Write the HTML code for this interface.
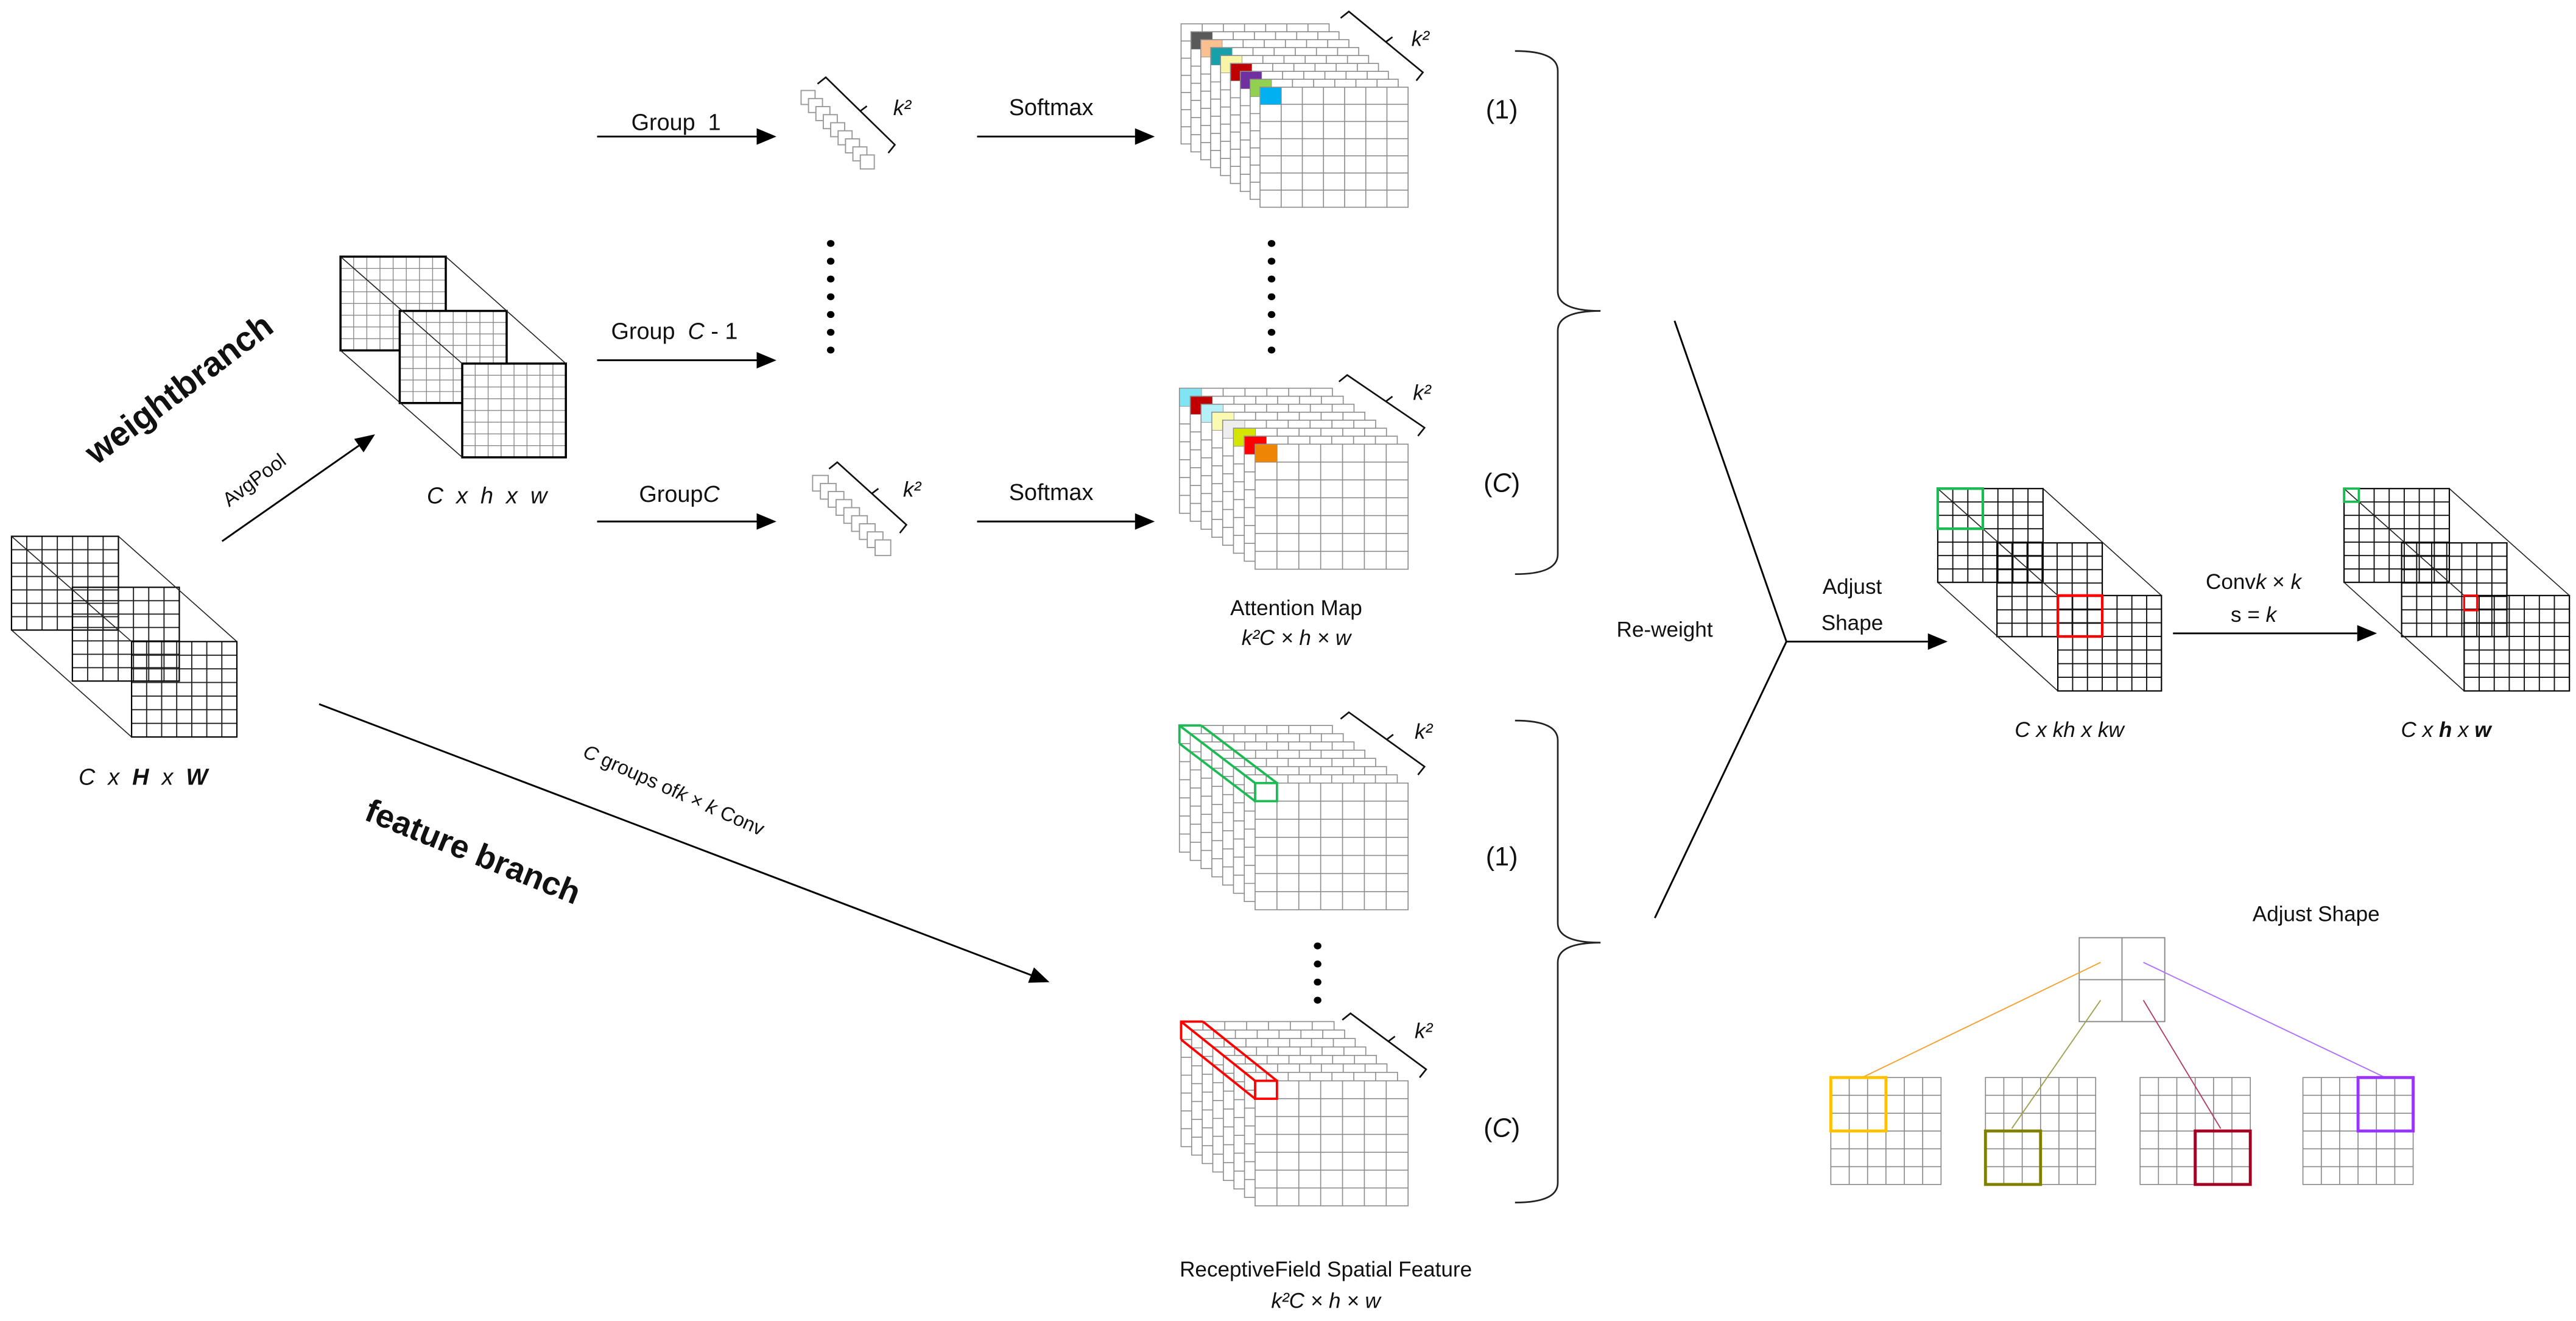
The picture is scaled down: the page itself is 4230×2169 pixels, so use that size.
<!DOCTYPE html>
<html><head><meta charset="utf-8">
<style>
html,body{margin:0;padding:0;background:#fff;}
svg{display:block;}
text{font-family:"Liberation Sans",sans-serif;fill:#111;}
.it{font-style:italic;}
</style></head>
<body>
<svg id="s" xmlns="http://www.w3.org/2000/svg" width="4230" height="2169" viewBox="0 0 1566 803" preserveAspectRatio="none">
<rect width="1566" height="803" fill="#fff"/>
<g id="g"></g>
<g id="t">
<text transform="translate(113,242) rotate(-37)" text-anchor="middle" font-size="21" font-weight="bold">weightbranch</text>
<text transform="translate(157,295) rotate(-37)" text-anchor="middle" font-size="12">AvgPool</text>
<text x="87" y="477" text-anchor="middle" font-size="14" class="it" xml:space="preserve">C  x  <tspan font-weight="bold">H</tspan>  x  <tspan font-weight="bold">W</tspan></text>
<text x="296" y="306" text-anchor="middle" font-size="14" class="it" xml:space="preserve">C  x  h  x  w</text>
<text x="411" y="79" text-anchor="middle" font-size="14" xml:space="preserve">Group  1</text>
<text x="410" y="206" text-anchor="middle" font-size="14" xml:space="preserve">Group  <tspan class="it">C</tspan> - 1</text>
<text x="413" y="305" text-anchor="middle" font-size="14">Group<tspan class="it">C</tspan></text>
<text x="639" y="70" text-anchor="middle" font-size="14">Softmax</text>
<text x="639" y="304" text-anchor="middle" font-size="14">Softmax</text>
<text x="913" y="72" text-anchor="middle" font-size="16">(1)</text>
<text x="913" y="299" text-anchor="middle" font-size="16">(<tspan class="it">C</tspan>)</text>
<text x="913" y="526" text-anchor="middle" font-size="16">(1)</text>
<text x="913" y="691" text-anchor="middle" font-size="16">(<tspan class="it">C</tspan>)</text>
<text x="788" y="374" text-anchor="middle" font-size="13">Attention Map</text>
<text x="788" y="392" text-anchor="middle" font-size="13" class="it">k²C × h × w</text>
<text x="1012" y="387" text-anchor="middle" font-size="13">Re-weight</text>
<text x="1126" y="361" text-anchor="middle" font-size="13">Adjust</text>
<text x="1126" y="383" text-anchor="middle" font-size="13">Shape</text>
<text x="1370" y="358" text-anchor="middle" font-size="13">Conv<tspan class="it">k</tspan> × <tspan class="it">k</tspan></text>
<text x="1370" y="378" text-anchor="middle" font-size="13">s = <tspan class="it">k</tspan></text>
<text x="1258" y="448" text-anchor="middle" font-size="13" class="it">C x kh x kw</text>
<text x="1487" y="448" text-anchor="middle" font-size="13" class="it">C x <tspan font-weight="bold">h</tspan> x <tspan font-weight="bold">w</tspan></text>
<text x="1408" y="560" text-anchor="middle" font-size="13">Adjust Shape</text>
<text transform="translate(408,484) rotate(24)" text-anchor="middle" font-size="12"><tspan class="it">C</tspan> groups of<tspan class="it">k</tspan> × <tspan class="it">k</tspan> Conv</text>
<text transform="translate(285,524) rotate(22)" text-anchor="middle" font-size="20" font-weight="bold">feature branch</text>
<text x="806" y="776" text-anchor="middle" font-size="13">ReceptiveField Spatial Feature</text>
<text x="806" y="795" text-anchor="middle" font-size="13" class="it">k²C × h × w</text>
<text x="543" y="70" font-size="13" class="it">k²</text>
<text x="549" y="302" font-size="13" class="it">k²</text>
<text x="858" y="28" font-size="13" class="it">k²</text>
<text x="859" y="243" font-size="13" class="it">k²</text>
<text x="860" y="449" font-size="13" class="it">k²</text>
<text x="860" y="631" font-size="13" class="it">k²</text>
</g>
</svg>
<script>
(function(){
var NS="http://www.w3.org/2000/svg",G=document.getElementById("g");
function el(n,a){var e=document.createElementNS(NS,n);for(var k in a)e.setAttribute(k,a[k]);G.appendChild(e);return e;}
function L(x1,y1,x2,y2,c,w){el("line",{x1:x1,y1:y1,x2:x2,y2:y2,stroke:c||"#000","stroke-width":w||1});}
function R(x,y,w,h,st,sw,f){el("rect",{x:x,y:y,width:w,height:h,stroke:st||"none","stroke-width":sw||1,fill:f||"none"});}
function grid(x,y,w,h,c,r,col,sw,fill,bcol,bw){
  if(fill)R(x,y,w,h,"none",0,fill);
  var d="";
  for(var i=1;i<c;i++){var xx=x+w*i/c;d+="M"+xx+","+y+"V"+(y+h);}
  for(var j=1;j<r;j++){var yy=y+h*j/r;d+="M"+x+","+yy+"H"+(x+w);}
  el("path",{d:d,stroke:col,"stroke-width":sw,fill:"none"});
  R(x,y,w,h,bcol||col,bw||sw,"none");
}
function arrow(x1,y1,x2,y2){
  var dx=x2-x1,dy=y2-y1,l=Math.sqrt(dx*dx+dy*dy),ux=dx/l,uy=dy/l,hl=12,hw=5;
  var bx=x2-ux*hl,by=y2-uy*hl;
  L(x1,y1,bx,by,"#000",1.1);
  el("polygon",{points:x2+","+y2+" "+(bx-uy*hw)+","+(by+ux*hw)+" "+(bx+uy*hw)+","+(by-ux*hw),fill:"#000"});
}
function bracket(ax,ay,ex,ey){
  var mx=(ax+ex)/2,my=(ay+ey)/2;
  el("path",{d:"M"+(ax-5)+","+(ay+4)+"L"+ax+","+ay+"L"+ex+","+ey+"L"+(ex-4)+","+(ey+5)+"M"+mx+","+my+"L"+(mx+4)+","+(my-3),stroke:"#111","stroke-width":1,fill:"none"});
}
function stack(x0,y0,x1,y1,n,w,h,colors){
  var dx=(x1-x0)/(n-1),dy=(y1-y0)/(n-1);
  for(var i=0;i<n;i++){
    var x=x0+dx*i,y=y0+dy*i;
    grid(x,y,w,h,7,7,"#8c8c8c",0.6,"#fff");
    if(colors&&colors[i])R(x+0.3,y+0.3,w/7-0.3,h/7-0.3,"none",0,colors[i]);
  }
}
function prism(x0,y0,x1,y1,cw,ch,col){
  var o={stroke:col,"stroke-width":1.4,fill:"none"};
  el("path",Object.assign({d:"M"+x0+","+(y0+ch)+"V"+y0+"H"+(x0+cw)+
    "M"+x0+","+y0+"L"+x1+","+y1+"M"+(x0+cw)+","+y0+"L"+(x1+cw)+","+y1+"M"+x0+","+(y0+ch)+"L"+x1+","+(y1+ch)},o));
  el("rect",Object.assign({x:x1,y:y1,width:cw,height:ch},o));
}
function cube(F,c,r,col,sw,bw,opaque,outl){
  for(var i=0;i<F.length;i++){var f=F[i];grid(f[0],f[1],f[2],f[3],c,r,col,sw,opaque?"#fff":null,"#000",bw);}
  for(var k=0;k<outl.length;k++){var o=outl[k];L(o[0],o[1],o[2],o[3],"#222",0.6);}
}
// left cube
cube([[7,326,65,57],[44,357,65,57],[80,390,64,58]],7,7,"#222",0.7,0.8,false,
 [[72,326,144,390],[7,383,80,448],[7,326,80,390]]);
// cube 2
cube([[207,156,64,57],[243,189,65,56],[281,221,63,57]],8,8,"#888",0.5,1.3,true,
 [[271,156,344,221],[207,213,281,278],[207,156,281,221]]);
// right cube 1
cube([[1178,297,64,57],[1214,330,64,57],[1251,362,63,58]],7,7,"#111",0.7,0.8,false,
 [[1242,297,1314,362],[1178,354,1251,420],[1178,297,1251,362]]);
R(1178,297,27.4,24.4,"#1db954",1.6);
R(1251,362,27,24.9,"#f00",1.6);
// right cube 2
cube([[1425,297,64,57],[1460,330,64,57],[1498,362,64,58]],7,7,"#111",0.7,0.8,false,
 [[1489,297,1562,362],[1425,354,1498,420],[1425,297,1498,362]]);
R(1425,297,9,8,"#1db954",1.4);
R(1498,362,8,9,"#f00",1.2);
// arrows
arrow(363,83,472,83);arrow(363,219,472,219);arrow(363,317,472,317);
arrow(594,83,702,83);arrow(594,317,702,317);
arrow(135,329,228,264);
arrow(194,428,638,597);
arrow(1086,390,1184,390);
arrow(1321,385,1445,385);
// V lines
L(1018,195,1086,390,"#000",1.1);L(1086,390,1006,558,"#000",1.1);
// small vectors
for(var i=0;i<9;i++){R(487+4.5*i,55+4.9*i,8.5,8.5,"#999",0.7,"#fff");}
for(var i=0;i<9;i++){R(494+4.75*i,289+4.9*i,9.5,9.5,"#999",0.7,"#fff");}
bracket(502,47,544,88);bracket(509,281,551,319);
// dots
for(var i=0;i<7;i++)el("ellipse",{cx:505,cy:148+i*10.8,rx:2.3,ry:2.1,fill:"#000"});
for(var i=0;i<7;i++)el("ellipse",{cx:773,cy:148+i*10.8,rx:2.3,ry:2.1,fill:"#000"});
for(var i=0;i<4;i++)el("ellipse",{cx:801,cy:575+i*11,rx:2.3,ry:2.1,fill:"#000"});
// stacks
stack(718,14.5,766,53,9,90,73,[null,"#595959","#fac090","#17a0aa","#f8f4a8","#c00000","#7030a0","#92d050","#00b0f0"]);
stack(717,236,763,270,8,93,76,["#7fe5f5","#c00000","#b3f0f8","#fafab0","#eeeeee","#d4e600","#ff0000","#ee8505"]);
stack(717,441,763,476,8,93,77,null);
stack(718,621,763,657,8,93,76,null);
prism(717,441,763,476,93/7,11,"#1db954");
prism(718,621,763,657,93/7,10.9,"#f00");
bracket(820,7,865,44);bracket(819,228,866,260);bracket(820,433,866,466);bracket(821,616,867,650);
// braces
function brace(t,m,b){
  el("path",{d:"M921,"+t+"Q947,"+t+" 947,"+(t+12)+"L947,"+(m-12)+"Q947,"+m+" 973,"+m+"Q947,"+m+" 947,"+(m+12)+"L947,"+(b-12)+"Q947,"+b+" 921,"+b,stroke:"#222","stroke-width":1,fill:"none"});
}
brace(31,189,349);brace(438,573,731);
// adjust shape bottom
grid(1264,570,52,51,2,2,"#888",0.7,"#fff");
var gx=[1113,1207,1301,1400],cols=["#ffc000","#808000","#a50021","#9933ff"],pos=[[0,0],[0,3],[3,3],[3,0]];
var lc=["#f5a030","#a0a050","#b04060","#b070ff"];
var ls=[[1277,585,1132,655],[1277,608,1223,686],[1303,608,1350,686],[1303,585,1450,655]];
for(var k=0;k<4;k++){
  grid(gx[k],655,67,65,6,6,"#888",0.6,"#fff");
  L(ls[k][0],ls[k][1],ls[k][2],ls[k][3],lc[k],0.7);
}
for(var k=0;k<4;k++){
  var cw=67/6,ch=65/6;
  R(gx[k]+pos[k][0]*cw,655+pos[k][1]*ch,cw*3,ch*3,cols[k],1.8);
}
})();
</script>
</body></html>
